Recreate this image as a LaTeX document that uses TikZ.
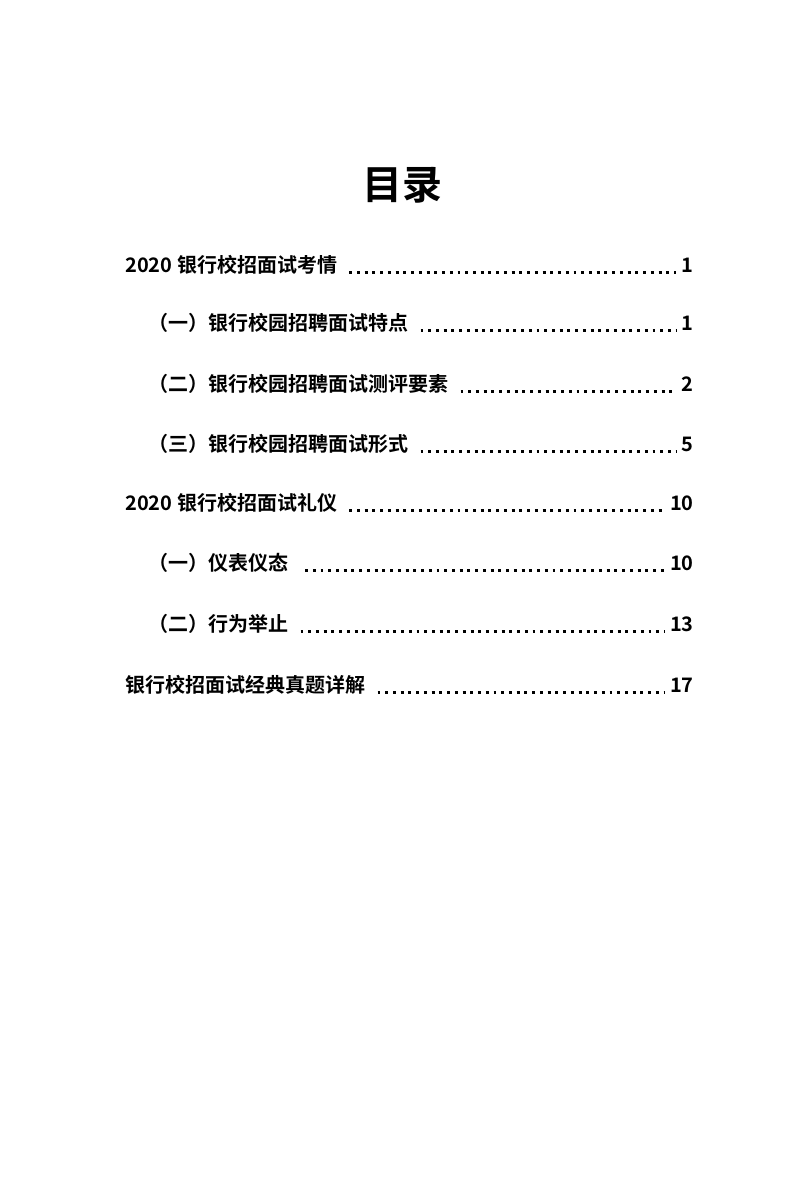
\documentclass[tikz,border=0pt]{standalone}
\usepackage{fontspec}
\setmainfont{Noto Sans CJK SC Bold}
\begin{document}
\begin{tikzpicture}[x=0.75pt,y=-0.75pt,
  entry/.style={anchor=west,inner sep=0pt,font=\fontsize{15}{18}\selectfont},
  pnum/.style={anchor=east,inner sep=0pt,font=\fontsize{15}{18}\selectfont},
  lead/.style={line width=2.2pt,dash pattern=on 0pt off 5.8pt,line cap=butt,draw=black,
     dash pattern=on 2.2pt off 3.6pt}]
\useasboundingbox (0,0) rectangle (800,1184);
\node[font=\fontsize{30}{36}\selectfont,inner sep=0pt] (title) at (402,185) {目录};
\foreach \i/\x/\y/\t/\p in {
 a/125/265/{2020 银行校招面试考情}/1,
 b/148/323/{（一）银行校园招聘面试特点}/1,
 c/148/384/{（二）银行校园招聘面试测评要素}/2,
 d/148/444/{（三）银行校园招聘面试形式}/5,
 e/125/503/{2020 银行校招面试礼仪}/10,
 f/148/563/{（一）仪表仪态\ \ }/10,
 g/148/624/{（二）行为举止}/13,
 h/125/685/{银行校招面试经典真题详解}/17}{
 \node[entry] (t\i) at (\x,\y) {\t};
 \node[pnum] (n\i) at (694,\y) {\p};
 \draw[lead] ([xshift=9pt,yshift=-5.5pt]t\i.east) -- ([xshift=-4pt,yshift=-5.5pt]n\i.west);
}
\end{tikzpicture}
\end{document}
